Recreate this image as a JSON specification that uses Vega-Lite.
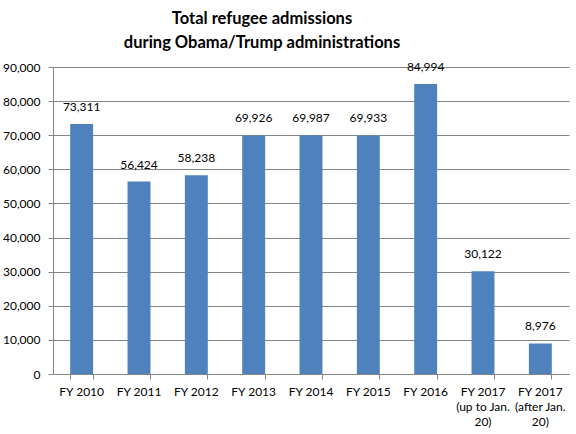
{
  "$schema": "https://vega.github.io/schema/vega-lite/v6.json",
  "width": 516,
  "height": 307,
  "autosize": {"type": "none"},
  "padding": {"left": 53, "top": 67, "right": 7, "bottom": 60},
  "background": "#ffffff",
  "title": {
    "text": ["Total refugee admissions", "during Obama/Trump administrations"],
    "font": "Lato",
    "fontSize": 16.5,
    "fontWeight": "bold",
    "color": "#000000",
    "lineHeight": 24,
    "anchor": "middle",
    "dx": -49,
    "offset": 10
  },
  "data": {
    "values": [
      {"year": "FY 2010", "admissions": 73311},
      {"year": "FY 2011", "admissions": 56424},
      {"year": "FY 2012", "admissions": 58238},
      {"year": "FY 2013", "admissions": 69926},
      {"year": "FY 2014", "admissions": 69987},
      {"year": "FY 2015", "admissions": 69933},
      {"year": "FY 2016", "admissions": 84994},
      {"year": "FY 2017|(up to Jan.|20)", "admissions": 30122},
      {"year": "FY 2017|(after Jan.|20)", "admissions": 8976}
    ]
  },
  "encoding": {
    "x": {
      "field": "year",
      "type": "nominal",
      "sort": null,
      "scale": {"paddingInner": 0.6, "paddingOuter": 0.3},
      "axis": {
        "title": null,
        "labelAngle": 0,
        "labelExpr": "split(datum.label, '|')",
        "labelFont": "Lato",
        "labelFontSize": 12,
        "labelColor": "#000000",
        "labelLineHeight": 15,
        "labelPadding": 7,
        "domainColor": "#868686",
        "tickColor": "#868686",
        "tickSize": 5,
        "bandPosition": 1,
        "tickExtra": true,
        "grid": false
      }
    },
    "y": {
      "field": "admissions",
      "type": "quantitative",
      "scale": {"domain": [0, 90000]},
      "axis": {
        "title": null,
        "values": [0, 10000, 20000, 30000, 40000, 50000, 60000, 70000, 80000, 90000],
        "format": ",d",
        "labelFont": "Lato",
        "labelFontSize": 12,
        "labelColor": "#000000",
        "labelPadding": 8,
        "domainColor": "#868686",
        "tickColor": "#868686",
        "tickSize": 5,
        "gridColor": "#868686",
        "grid": true
      }
    }
  },
  "layer": [
    {"mark": {"type": "bar", "color": "#4F81BD"}},
    {
      "mark": {"type": "text", "baseline": "bottom", "dy": -10, "font": "Lato", "fontSize": 12, "color": "#000000"},
      "encoding": {"text": {"field": "admissions", "type": "quantitative", "format": ",d"}}
    }
  ],
  "config": {"view": {"stroke": null}}
}
